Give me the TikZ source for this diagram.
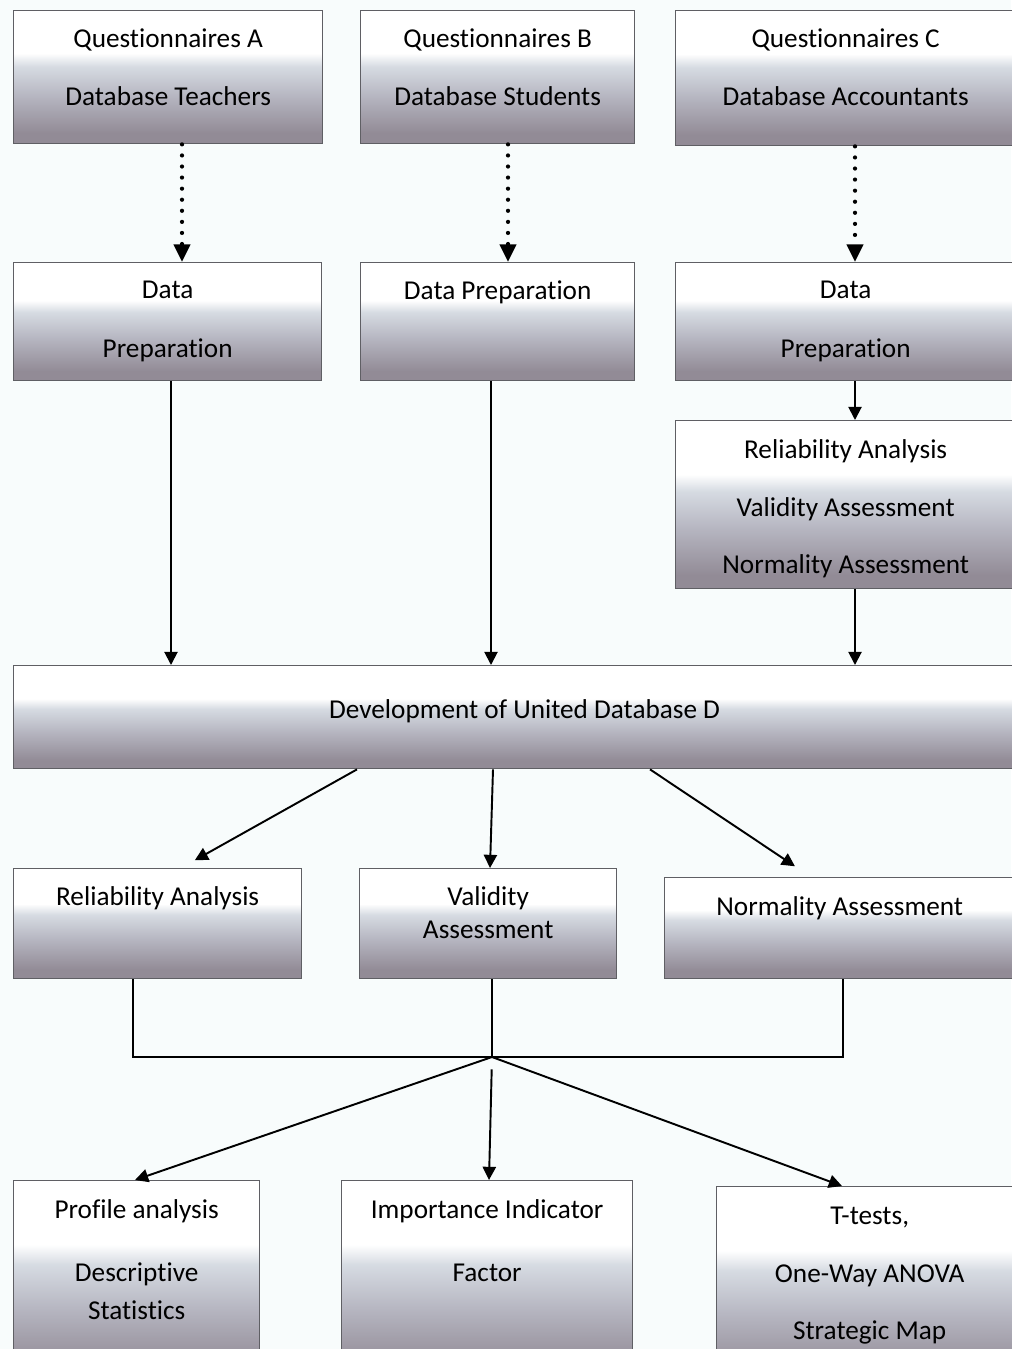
\documentclass[tikz,border=0pt]{standalone}
\usepackage{fontspec}
\setmainfont{Carlito}[Ligatures=NoCommon]
\usepackage{tikz}
\usetikzlibrary{arrows.meta, positioning, calc}

\definecolor{shdark}{RGB}{146,139,150}
\definecolor{shmid}{RGB}{182,182,193}
\definecolor{shlight}{RGB}{214,219,226}
\definecolor{bgcol}{RGB}{248,252,252}
\definecolor{linecol}{RGB}{95,95,100}

% box fill: white top, mauve-grey bottom (path spans 25bp..75bp)
\pgfdeclareverticalshading{boxshade}{100bp}{color(0bp)=(shdark); color(29bp)=(shdark);
  color(43bp)=(shmid); color(54bp)=(shlight); color(59bp)=(white); color(100bp)=(white)}

% width, height, top gap, lines
\newcommand{\boxtxt}[4]{\parbox[c][#2][t]{#1}{\centering\vspace*{#3}\strut#4\par}}

\begin{document}
\begin{tikzpicture}[
    x=0.02cm, y=-0.02cm,
    every node/.style={font=\fontsize{15.5}{18.6}\selectfont},
    box/.style={rectangle, draw=linecol, line width=0.8pt, shading=boxshade,
                inner sep=0pt, anchor=north west},
    arr/.style={-{Triangle[width=7.5pt,length=7.5pt]}, line width=1.1pt},
    dotarr/.style={-{Triangle[width=9pt,length=10pt]}, line width=2.4pt,
                   line cap=round, dash pattern=on 0pt off 6.3pt}
]
\fill[bgcol] (0,0) rectangle (1011,1349);
\useasboundingbox (0,0) rectangle (1011,1349);

% === Questionnaires ===
\node[box] (qa) at (13,10)
    {\boxtxt{6.18cm}{2.66cm}{0.28cm}{Questionnaires A\\[0.5cm]Database Teachers}};
\node[box] (qb) at (360,10)
    {\boxtxt{5.48cm}{2.66cm}{0.28cm}{Questionnaires B\\[0.5cm]Database Students}};
\node[box] (qc) at (675,10)
    {\boxtxt{6.8cm}{2.7cm}{0.28cm}{Questionnaires C\\[0.5cm]Database Accountants}};

% === Data preparation ===
\node[box] (dpa) at (13,262)
    {\boxtxt{6.16cm}{2.36cm}{0.26cm}{Data\\[0.52cm]Preparation}};
\node[box] (dpb) at (360,262)
    {\boxtxt{5.48cm}{2.36cm}{0.28cm}{Data Preparation}};
\node[box] (dpc) at (675,262)
    {\boxtxt{6.8cm}{2.36cm}{0.26cm}{Data\\[0.52cm]Preparation}};
\node[box] (chk) at (675,420)
    {\boxtxt{6.8cm}{3.36cm}{0.3cm}{Reliability Analysis\\[0.5cm]Validity Assessment\\[0.5cm]Normality Assessment}};

% === United database ===
\node[box] (unit) at (13,665)
    {\boxtxt{20.44cm}{2.06cm}{0.6cm}{Development of United Database D}};

% === Analyses ===
\node[box] (rel) at (13,868)
    {\boxtxt{5.76cm}{2.2cm}{0.28cm}{Reliability Analysis}};
\node[box] (val) at (359,868)
    {\boxtxt{5.14cm}{2.2cm}{0.28cm}{Validity\\Assessment}};
\node[box] (nor) at (664,877)
    {\boxtxt{7.0cm}{2.02cm}{0.3cm}{Normality Assessment}};

% === Outputs ===
\node[box] (pro) at (13,1180)
    {\boxtxt{4.92cm}{4cm}{0.3cm}{Profile analysis\\[0.6cm]Descriptive\\[0.12cm]Statistics}};
\node[box] (imp) at (341,1180)
    {\boxtxt{5.82cm}{4cm}{0.3cm}{Importance Indicator\\[0.6cm]Factor}};
\node[box] (tte) at (716,1186)
    {\boxtxt{6.12cm}{4cm}{0.3cm}{T-tests,\\[0.5cm]One-Way ANOVA\\[0.5cm]Strategic Map}};

% columns for connectors
\coordinate (xa) at (182,0);
\coordinate (xb) at (508,0);
\coordinate (xc) at (855,0);
\coordinate (xA) at (171,0);
\coordinate (xB) at (491,0);
\coordinate (xr) at (357,0);
\coordinate (xv) at (493,0);
\coordinate (xn) at (650,0);
\coordinate (hub) at (492,1057);

\draw[dotarr] (qa.south -| xa) -- (dpa.north -| xa);
\draw[dotarr] (qb.south -| xb) -- (dpb.north -| xb);
\draw[dotarr] (qc.south -| xc) -- (dpc.north -| xc);

\draw[arr] (dpa.south -| xA) -- (unit.north -| xA);
\draw[arr] (dpb.south -| xB) -- (unit.north -| xB);
\draw[arr] (dpc.south -| xc) -- (chk.north -| xc);
\draw[arr] (chk.south -| xc) -- (unit.north -| xc);

\draw[arr, shorten >=9pt] (unit.south -| xr) -- ($(rel.north west)+(168,0)$);
\draw[arr] (unit.south -| xv) -- ($(val.north west)+(131,0)$);
\draw[arr, shorten >=11pt] (unit.south -| xn) -- ($(nor.north west)+(147,0)$);

\draw[line width=1.1pt] ($(rel.south west)+(120,0)$) |- (hub) -| ($(nor.south west)+(179,0)$);
\draw[line width=1.1pt] (val.south -| hub) -- (hub);

\draw[arr] (hub) -- ($(pro.north west)+(122,0)$);
\draw[arr, shorten <=7pt] (hub) -- ($(imp.north west)+(148,0)$);
\draw[arr] (hub) -- ($(tte.north west)+(126,0)$);

\end{tikzpicture}
\end{document}
